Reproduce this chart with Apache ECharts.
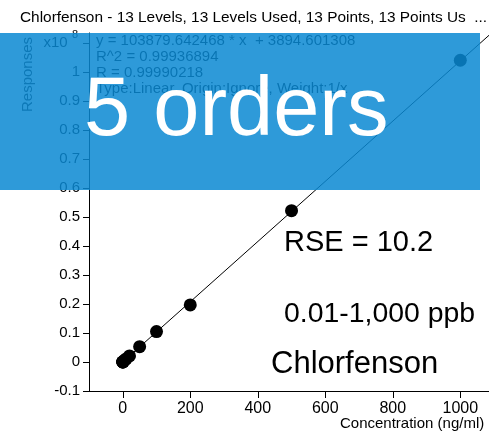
<!DOCTYPE html>
<html>
<head>
<meta charset="utf-8">
<script src="https://cdn.jsdelivr.net/npm/echarts@6/dist/echarts.min.js"></script>
<style>
html,body{margin:0;padding:0;background:#fff;}
#main{width:489px;height:434px;}
</style>
</head>
<body>
<div id="main"></div>
<script>
// 标定点 (ng/ml, 响应值 x10^8)
var concList = [0.01, 0.05, 0.1, 0.5, 1, 5, 10, 20, 50, 100, 200, 500, 1000];
var respList = [0.00005, 0.00009, 0.00014, 0.00056, 0.0011, 0.0056, 0.0108, 0.021, 0.053, 0.105, 0.197, 0.522, 1.041];
// 拟合直线 (两端)
var fitX = [0, 1085];
var fitY = [0.00004, 1.1271];
// 刻度
var xTicks = [0, 200, 400, 600, 800, 1000];
var yTicks = [-0.1, 0, 0.1, 0.2, 0.3, 0.4, 0.5, 0.6, 0.7, 0.8, 0.9, 1, 1.1];
// 文字
var titleText = "Chlorfenson - 13 Levels, 13 Levels Used, 13 Points, 13 Points Us  ...";
var eqLines = ["y = 103879.642468 * x  + 3894.601308", "R^2 = 0.99936894", "R = 0.99990218", "Type:Linear, Origin:Ignore, Weight:1/x"];

var font = "Liberation Sans, Arial, sans-serif";
var chart = echarts.init(document.getElementById('main'));

var points = [];
for (var i = 0; i < concList.length; i++) {
	points.push([concList[i], respList[i]]);
}
var fitLine = [];
for (var j = 0; j < fitX.length; j++) {
	fitLine.push([fitX[j], fitY[j]]);
}

var graphics = [];
graphics.push({type: 'text', left: 20, top: 10, style: {text: titleText, fontSize: 15.4, fontFamily: font, fill: '#000'}});
for (var k = 0; k < eqLines.length; k++) {
	graphics.push({type: 'text', x: 96, y: 33 + k * 16, style: {text: eqLines[k], fontSize: 15, fontFamily: font, fill: '#000'}});
}
graphics.push({type: 'text', x: 20, y: 112, rotation: Math.PI / 2, style: {text: 'Responses', fontSize: 15, fontFamily: font, fill: '#222'}});
graphics.push({type: 'text', x: 340, y: 416, style: {text: 'Concentration (ng/ml)', fontSize: 15, fontFamily: font, fill: '#000'}});
graphics.push({type: 'text', x: 284, y: 228, style: {text: 'RSE = 10.2', fontSize: 29, fontFamily: font, fill: '#000'}});
graphics.push({type: 'text', x: 284, y: 300, style: {text: '0.01-1,000 ppb', fontSize: 28.4, fontFamily: font, fill: '#000'}});
graphics.push({type: 'text', x: 271, y: 349, style: {text: 'Chlorfenson', fontSize: 31, fontFamily: font, fill: '#000'}});
// 蓝色遮罩
graphics.push({type: 'rect', z: 100, shape: {x: 0, y: 33, width: 480, height: 157}, style: {fill: 'rgba(9,136,210,0.85)'}});
graphics.push({type: 'text', z: 101, x: 84, y: 71, style: {text: '5 orders', fontSize: 83, fontFamily: font, fill: '#fff'}});

chart.setOption({
	animation: false,
	textStyle: {fontFamily: font},
	grid: {left: 89, right: 0, top: 33, bottom: 43, containLabel: false},
	xAxis: {
		type: 'value',
		min: -100,
		max: 1085,
		axisLine: {onZero: false, lineStyle: {color: '#000', width: 1}},
		axisTick: {length: 7, lineStyle: {color: '#000'}, customValues: xTicks},
		axisLabel: {
			color: '#000', fontSize: 16, margin: 10, customValues: xTicks,
			formatter: function(v) { return String(v); }
		},
		splitLine: {show: false}
	},
	yAxis: {
		type: 'value',
		min: -0.1,
		max: 1.135,
		axisLine: {show: true, onZero: false, lineStyle: {color: '#000', width: 1}},
		axisTick: {show: true, length: 6, lineStyle: {color: '#000'}, customValues: yTicks},
		axisLabel: {
			color: '#000', fontSize: 15, margin: 9, customValues: yTicks,
			formatter: function(v) {
				if (Math.abs(v - 1.1) < 1e-6) return '{a|x10 }{s|8}';
				return String(Math.round(v * 10) / 10);
			},
			rich: {
				a: {fontSize: 15, color: '#000', fontFamily: font},
				s: {fontSize: 11, color: '#000', fontFamily: font, padding: [0, 2, 16, 0]}
			}
		},
		splitLine: {show: false}
	},
	series: [{
		type: 'line',
		data: fitLine,
		symbol: 'none',
		lineStyle: {color: '#000', width: 1},
		z: 1
	}, {
		type: 'scatter',
		data: points,
		symbolSize: 13,
		itemStyle: {color: '#000', opacity: 1},
		z: 2
	}],
	graphic: graphics
});
</script>
</body>
</html>
